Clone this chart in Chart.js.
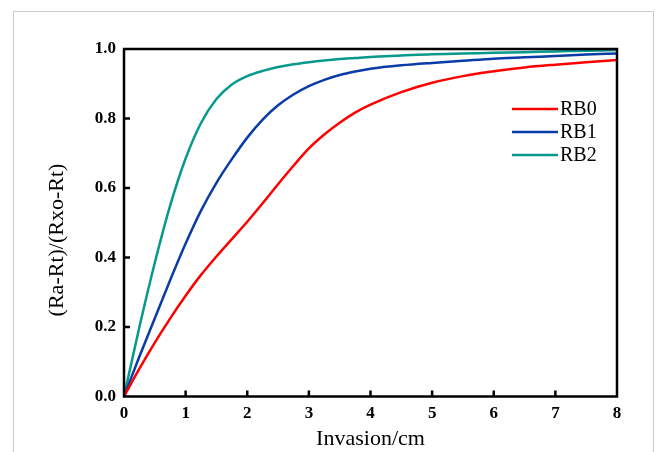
<!DOCTYPE html>
<html>
<head>
<meta charset="utf-8">
<script src="https://cdn.jsdelivr.net/npm/chart.js@4"></script>
<style>
  html, body { margin: 0; padding: 0; background: #fff; }
  #wrap { width: 656px; height: 452px; }
</style>
</head>
<body>
<div id="wrap"><canvas id="myChart" width="656" height="452"></canvas></div>
<script>
// invasion depth, cm
var invasion = [0, 0.25, 0.5, 0.75, 1, 1.25, 1.5, 1.75, 2, 2.25, 2.5, 2.75, 3, 3.25, 3.5, 3.75, 4, 4.5, 5, 5.5, 6, 6.5, 7, 7.5, 8];
var rb0 = [0, 0.08, 0.155, 0.225, 0.29, 0.35, 0.403, 0.453, 0.503, 0.556, 0.611, 0.664, 0.714, 0.754, 0.788, 0.817, 0.84, 0.876, 0.903, 0.922, 0.936, 0.947, 0.955, 0.962, 0.968];
var rb1 = [0, 0.115, 0.225, 0.335, 0.44, 0.535, 0.615, 0.683, 0.745, 0.797, 0.838, 0.869, 0.893, 0.911, 0.925, 0.935, 0.943, 0.953, 0.96, 0.966, 0.972, 0.976, 0.98, 0.984, 0.987];
var rb2 = [0, 0.2, 0.385, 0.55, 0.685, 0.787, 0.856, 0.898, 0.922, 0.937, 0.948, 0.956, 0.962, 0.967, 0.971, 0.974, 0.977, 0.981, 0.985, 0.987, 0.989, 0.991, 0.993, 0.995, 0.997];
var seriesNames = ['RB0', 'RB1', 'RB2'];
var seriesColors = ['#ff0000', '#0a3ca8', '#07998c'];
var xTicks = [0, 1, 2, 3, 4, 5, 6, 7, 8];
var yTicks = [0, 0.2, 0.4, 0.6, 0.8, 1.0];

function points(ys) {
    return invasion.map(function (x, i) { return { x: x, y: ys[i] }; });
}

var serif = '"Liberation Serif", "DejaVu Serif", serif';

// grey frame around the whole figure
var framePlugin = {
    id: 'frame',
    beforeDraw: function (chart) {
        var c = chart.ctx;
        c.save();
        c.strokeStyle = '#c9c9c9';
        c.lineWidth = 1;
        c.strokeRect(13.5, 11.5, 640, 460);
        c.restore();
    }
};

// black box, inward ticks, y title and legend
var boxPlugin = {
    id: 'box',
    afterDatasetsDraw: function (chart) {
        var c = chart.ctx, a = chart.chartArea;
        var xs = chart.scales.x, ys = chart.scales.y;
        c.save();
        c.strokeStyle = '#000';
        c.lineWidth = 2.5;
        c.strokeRect(a.left, a.top, a.right - a.left, a.bottom - a.top);
        c.beginPath();
        xTicks.forEach(function (v) {
            if (v === xs.min || v === xs.max) return;
            var px = xs.getPixelForValue(v);
            c.moveTo(px, a.bottom);
            c.lineTo(px, a.bottom - 6);
        });
        yTicks.forEach(function (v) {
            if (v === ys.min || v === ys.max) return;
            var py = ys.getPixelForValue(v);
            c.moveTo(a.left, py);
            c.lineTo(a.left + 6, py);
        });
        c.stroke();

        // y axis title, sits a little below the middle in the original
        c.save();
        c.translate(57, 240);
        c.rotate(-Math.PI / 2);
        c.font = '22px ' + serif;
        c.fillStyle = '#000';
        c.textAlign = 'center';
        c.textBaseline = 'middle';
        c.fillText('(Ra-Rt)/(Rxo-Rt)', 0, 0);
        c.restore();

        // legend inside the plot
        c.font = '20px ' + serif;
        c.textBaseline = 'middle';
        c.textAlign = 'left';
        chart.data.datasets.forEach(function (ds, i) {
            var y = 109 + i * 23;
            c.strokeStyle = ds.borderColor;
            c.lineWidth = 2.5;
            c.beginPath();
            c.moveTo(512, y);
            c.lineTo(558, y);
            c.stroke();
            c.fillStyle = '#000';
            c.fillText(ds.label, 560, y + 1);
        });
        c.restore();
    }
};

var ctx = document.getElementById('myChart').getContext('2d');
var myChart = new Chart(ctx, {
    type: 'line',
    data: {
        datasets: [
            { label: seriesNames[0], data: points(rb0), borderColor: seriesColors[0] },
            { label: seriesNames[1], data: points(rb1), borderColor: seriesColors[1] },
            { label: seriesNames[2], data: points(rb2), borderColor: seriesColors[2] }
        ]
    },
    options: {
        responsive: false,
        animation: false,
        layout: { padding: { top: 49, right: 39, left: 0, bottom: 0 } },
        elements: {
            point: { radius: 0 },
            line: { borderWidth: 2.5, cubicInterpolationMode: 'monotone', fill: false }
        },
        plugins: {
            legend: { display: false },
            tooltip: { enabled: false }
        },
        scales: {
            x: {
                type: 'linear',
                min: 0,
                max: 8,
                afterBuildTicks: function (s) { s.ticks = xTicks.map(function (v) { return { value: v }; }); },
                afterFit: function (s) { s.height = 55.5; },
                grid: { display: false, drawTicks: false },
                border: { display: false },
                ticks: {
                    padding: 7,
                    color: '#000',
                    font: { family: serif, size: 17, weight: 'bold' },
                    maxRotation: 0,
                    callback: function (v) { return String(v); }
                },
                title: {
                    display: true,
                    text: 'Invasion/cm',
                    color: '#000',
                    font: { family: serif, size: 22 },
                    padding: { top: 0, bottom: 0 }
                }
            },
            y: {
                min: 0,
                max: 1,
                afterBuildTicks: function (s) { s.ticks = yTicks.map(function (v) { return { value: v }; }); },
                afterFit: function (s) { s.width = 124; },
                grid: { display: false, drawTicks: false },
                border: { display: false },
                ticks: {
                    padding: 8,
                    color: '#000',
                    font: { family: serif, size: 17, weight: 'bold' },
                    callback: function (v) { return Number(v).toFixed(1); }
                }
            }
        }
    },
    plugins: [framePlugin, boxPlugin]
});
</script>
</body>
</html>
